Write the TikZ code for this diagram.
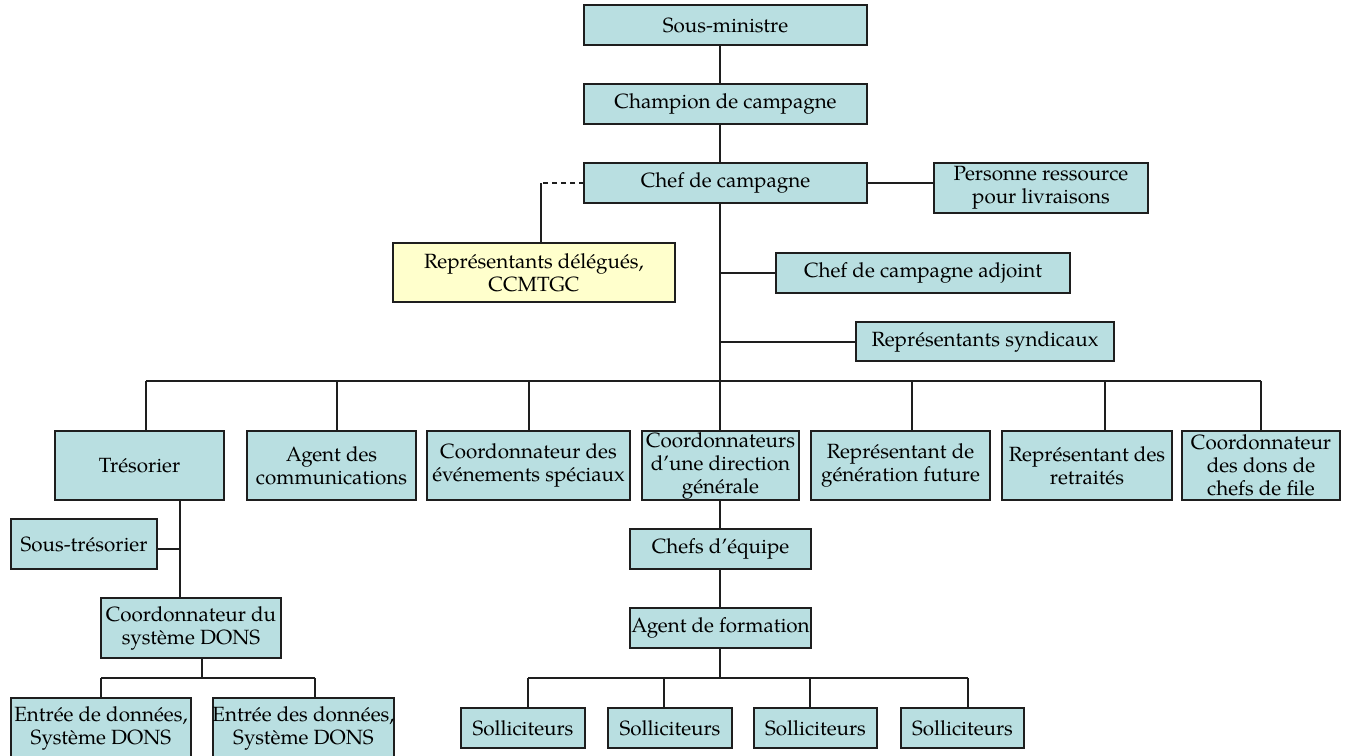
\documentclass[tikz,border=0pt]{standalone}
\usepackage{fontspec}
\setmainfont{TeX Gyre Pagella}
\definecolor{boxfill}{RGB}{185,223,225}
\definecolor{yelfill}{RGB}{255,255,204}
\definecolor{edge}{RGB}{30,30,30}
\newcommand\bx[7][boxfill]{%
  \node[box, fill=#1, minimum width={(#5-#3)*1pt}, minimum height={(#6-#4)*1pt},
        label={[lbl]center:{#7}}] (#2) at ({(#3+#5)/2},{(#4+#6)/2}) {};}
\begin{document}
\begin{tikzpicture}[x=1pt,y=-1pt,
  box/.style={draw=edge, line width=1.3pt, inner sep=0pt, outer sep=0pt},
  lbl/.style={align=center, inner sep=0pt, font=\fontsize{20.6}{23}\selectfont},
  ln/.style={line width=1.2pt, draw=edge}]
\useasboundingbox (0,0) rectangle (1346,755);
% top chain
\bx{sm}{584}{5}{867}{45}{Sous-ministre}
\bx{cc}{584}{84}{867}{124}{Champion de campagne}
\bx{chef}{584}{163}{867}{203}{Chef de campagne}
\bx{pr}{934}{163}{1148}{213}{Personne ressource\\pour livraisons}
\bx[yelfill]{rd}{393}{243}{675}{302}{Représentants délégués,\\CCMTGC}
\bx{adj}{776}{253}{1070}{293}{Chef de campagne adjoint}
\bx{syn}{856}{322}{1114}{361}{Représentants syndicaux}
% level row
\bx{tres}{55}{431}{224}{500}{Trésorier}
\bx{com}{247}{431}{416}{500}{Agent des\\communications}
\bx{evt}{427}{431}{630}{500}{Coordonnateur des\\événements spéciaux}
\bx{dg}{642}{431}{799}{500}{Coordonnateurs\\d’une direction\\générale}
\bx{gen}{811}{431}{990}{500}{Représentant de\\génération future}
\bx{ret}{1002}{431}{1172}{500}{Représentant des\\retraités}
\bx{cdf}{1182}{431}{1340}{500}{Coordonnateur\\des dons de\\chefs de file}
% treasurer branch
\bx{st}{11}{519}{157}{569}{Sous-trésorier}
\bx{dons}{101}{598}{281}{658}{Coordonnateur du\\système DONS}
\bx{e1}{11}{698}{191}{758}{Entrée de données,\\Système DONS}
\bx{e2}{213}{698}{394}{758}{Entrée des données,\\Système DONS}
% direction branch
\bx{ce}{630}{529}{811}{569}{Chefs d’équipe}
\bx{af}{630}{608}{811}{648}{Agent de formation}
\bx{s1}{461}{708}{585}{748}{Solliciteurs}
\bx{s2}{608}{708}{732}{748}{Solliciteurs}
\bx{s3}{754}{708}{877}{748}{Solliciteurs}
\bx{s4}{901}{708}{1024}{748}{Solliciteurs}
% coordinates
\coordinate (sp) at (720,0);
\coordinate (bus) at (0,381);
\coordinate (dk) at (541,183);
% connectors
\draw[ln] (sm.south -| sp) -- (cc.north -| sp);
\draw[ln] (cc.south -| sp) -- (chef.north -| sp);
\draw[ln] (chef.east) -- (chef.east -| pr.west);
\draw[ln, dash pattern=on 5pt off 4pt] (chef.west) -- (dk);
\draw[ln] (dk) -- (rd.north -| dk);
\draw[ln] (chef.south -| sp) -- (bus -| sp);
\draw[ln] (adj.west |- 0,273) -- (sp |- 0,273);
\draw[ln] (syn.west |- 0,342) -- (sp |- 0,342);
\coordinate (tb) at (146,381);
\coordinate (cb) at (337,381);
\coordinate (eb) at (529,381);
\coordinate (gb) at (912,381);
\coordinate (rb) at (1105,381);
\coordinate (fb) at (1261,381);
\draw[ln] (tb) -- (fb);
\draw[ln] (tb) -- (tres.north -| tb);
\draw[ln] (cb) -- (com.north -| cb);
\draw[ln] (eb) -- (evt.north -| eb);
\draw[ln] (sp |- bus) -- (dg.north -| sp);
\draw[ln] (gb) -- (gen.north -| gb);
\draw[ln] (rb) -- (ret.north -| rb);
\draw[ln] (fb) -- (cdf.north -| fb);
% treasurer
\coordinate (tv) at (180,0);
\draw[ln] (tres.south -| tv) -- (dons.north -| tv);
\draw[ln] (st.east |- 0,549) -- (tv |- 0,549);
\coordinate (dv) at (202,678);
\draw[ln] (dons.south -| dv) -- (dv);
\coordinate (d1) at (101,678);
\coordinate (d2) at (315,678);
\draw[ln] (d1) -- (d2);
\draw[ln] (d1) -- (e1.north -| d1);
\draw[ln] (d2) -- (e2.north -| d2);
% direction
\draw[ln] (dg.south -| sp) -- (ce.north -| sp);
\draw[ln] (ce.south -| sp) -- (af.north -| sp);
\coordinate (a1) at (528,678);
\coordinate (a2) at (664,678);
\coordinate (a3) at (810,678);
\coordinate (a4) at (968,678);
\draw[ln] (af.south -| sp) -- (sp |- a1);
\draw[ln] (a1) -- (a4);
\draw[ln] (a1) -- (s1.north -| a1);
\draw[ln] (a2) -- (s2.north -| a2);
\draw[ln] (a3) -- (s3.north -| a3);
\draw[ln] (a4) -- (s4.north -| a4);
\end{tikzpicture}
\end{document}
